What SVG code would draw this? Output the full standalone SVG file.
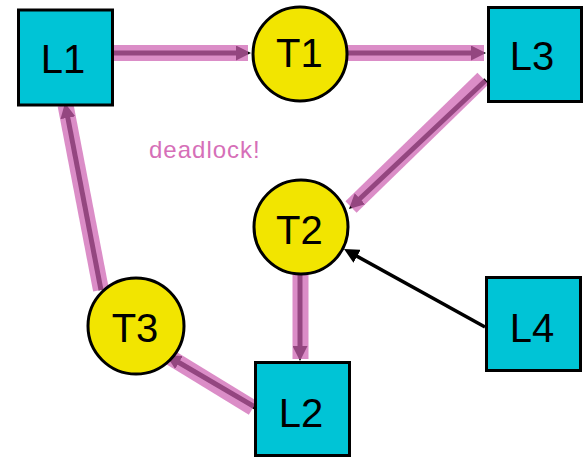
<svg xmlns="http://www.w3.org/2000/svg" width="584" height="458" viewBox="0 0 584 458">
  <style>
    .lock { fill: #00c4d6; stroke: #000; stroke-width: 3; }
    .thread { fill: #f2e500; stroke: #000; stroke-width: 3; }
    .label { font-family: "Liberation Sans", Arial, sans-serif; font-size: 40px; fill: #000; text-anchor: middle; }
    .edge { stroke: #000; stroke-width: 5; fill: none; marker-end: url(#head); }
    .edge-thin { stroke: #000; stroke-width: 3.5; fill: none; marker-end: url(#head); }
    .cycle { stroke: #cd61b2; stroke-opacity: 0.72; stroke-width: 16; fill: none; }
    .note { font-family: "Liberation Sans", Arial, sans-serif; font-size: 24px; fill: #d66fb8; letter-spacing: 1px; }
  </style>
  <defs>
    <marker id="head" markerUnits="userSpaceOnUse" markerWidth="15" markerHeight="15" refX="7" refY="7.5" orient="auto">
      <path d="M0,0 L15,7.5 L0,15 z" fill="#000"/>
    </marker>
  </defs>

  <rect width="584" height="458" fill="#fff"/>

  <!-- wait-for / hold edges -->
  <g id="connectors">
    <line class="edge" x1="113" y1="53" x2="243" y2="53"/>
    <line class="edge" x1="348" y1="53" x2="478" y2="53"/>
    <line class="edge" x1="486" y1="80" x2="354.8" y2="203.5"/>
    <line class="edge" x1="300" y1="275" x2="300" y2="353"/>
    <line class="edge" x1="255" y1="407" x2="172.9" y2="359"/>
    <line class="edge" x1="101" y1="290" x2="66.5" y2="110.9"/>
    <line class="edge-thin" x1="485" y1="327" x2="351" y2="252.9"/>
    <!-- highlighted cycle -->
    <line class="cycle" x1="111" y1="53" x2="248" y2="53"/>
    <line class="cycle" x1="347" y1="53" x2="484" y2="53"/>
    <line class="cycle" x1="483" y1="78.5" x2="351" y2="207"/>
    <line class="cycle" x1="300.5" y1="274" x2="300.5" y2="359"/>
    <line class="cycle" x1="253" y1="408" x2="168" y2="356"/>
    <line class="cycle" x1="101" y1="290" x2="65.5" y2="105"/>
  </g>

  <g id="L1">
    <rect class="lock" x="18.5" y="10" width="94" height="95"/>
    <text class="label" x="63" y="73">L1</text>
  </g>
  <g id="T1">
    <circle class="thread" cx="300" cy="54" r="47"/>
    <text class="label" x="299.3" y="67">T1</text>
  </g>
  <g id="L3">
    <rect class="lock" x="488.5" y="7.5" width="93" height="94"/>
    <text class="label" x="532" y="70">L3</text>
  </g>
  <g id="T2">
    <circle class="thread" cx="301" cy="227" r="47"/>
    <text class="label" x="299.3" y="244">T2</text>
  </g>
  <g id="L4">
    <rect class="lock" x="486.5" y="277.5" width="94" height="93"/>
    <text class="label" x="532" y="342">L4</text>
  </g>
  <g id="T3">
    <circle class="thread" cx="136" cy="326" r="48"/>
    <text class="label" x="135" y="342">T3</text>
  </g>
  <g id="L2">
    <rect class="lock" x="255.5" y="362.5" width="94" height="93"/>
    <text class="label" x="301" y="427">L2</text>
  </g>

  <text class="note" x="149" y="158">deadlock!</text>
</svg>
